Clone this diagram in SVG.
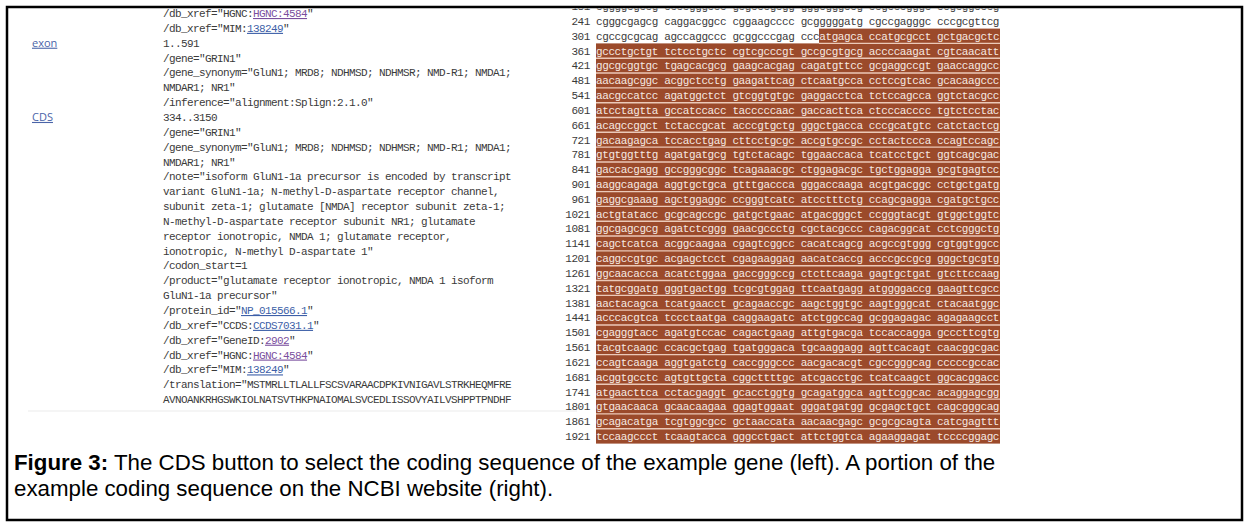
<svg xmlns="http://www.w3.org/2000/svg" width="1249" height="527" viewBox="0 0 1249 527">
<style>
.m{font-family:"Liberation Mono","DejaVu Sans Mono",monospace;font-size:11px;letter-spacing:-0.6px;fill:#3a3a3a}
.r{letter-spacing:-0.4px}
.h{fill:#f6e9e2}
.lk{fill:#3d5fa8;text-decoration:underline}
.lv{fill:#7a4f9e;text-decoration:underline}
.lab{font-family:"Open Sans","Liberation Sans",sans-serif;font-size:11px;fill:#4a64a8;text-decoration:underline}
.cap{font-family:"Liberation Sans",Arial,sans-serif;font-size:22.3px;fill:#000}
.sep{stroke:#ecc9b8;stroke-width:1.4}
</style>
<defs>
<clipPath id="topclip"><rect x="0" y="8.5" width="1249" height="30"/></clipPath>
</defs>
<rect x="0" y="0" width="1249" height="527" fill="#fff"/>
<g id="left-panel">
<line x1="28" y1="411" x2="577" y2="411" stroke="#f5f5f5" stroke-width="2"/>
<text class="lab" x="32" y="46.7">exon</text>
<text class="lab" x="32" y="120.95">CDS</text>
<g class="m">
<text x="163" y="17">/db_xref="HGNC:<tspan class="lv">HGNC:4584</tspan>"</text>
<text x="163" y="31.85">/db_xref="MIM:<tspan class="lk">138249</tspan>"</text>
<text x="163" y="46.7">1..591</text>
<text x="163" y="61.55">/gene="GRIN1"</text>
<text x="163" y="76.4">/gene_synonym="GluN1; MRD8; NDHMSD; NDHMSR; NMD-R1; NMDA1;</text>
<text x="163" y="91.25">NMDAR1; NR1"</text>
<text x="163" y="106.1">/inference="alignment:Splign:2.1.0"</text>
<text x="163" y="120.95">334..3150</text>
<text x="163" y="135.8">/gene="GRIN1"</text>
<text x="163" y="150.65">/gene_synonym="GluN1; MRD8; NDHMSD; NDHMSR; NMD-R1; NMDA1;</text>
<text x="163" y="165.5">NMDAR1; NR1"</text>
<text x="163" y="180.35">/note="isoform GluN1-1a precursor is encoded by transcript</text>
<text x="163" y="195.2">variant GluN1-1a; N-methyl-D-aspartate receptor channel,</text>
<text x="163" y="210.05">subunit zeta-1; glutamate [NMDA] receptor subunit zeta-1;</text>
<text x="163" y="224.9">N-methyl-D-aspartate receptor subunit NR1; glutamate</text>
<text x="163" y="239.75">receptor ionotropic, NMDA 1; glutamate receptor,</text>
<text x="163" y="254.6">ionotropic, N-methyl D-aspartate 1"</text>
<text x="163" y="269.45">/codon_start=1</text>
<text x="163" y="284.3">/product="glutamate receptor ionotropic, NMDA 1 isoform</text>
<text x="163" y="299.15">GluN1-1a precursor"</text>
<text x="163" y="314">/protein_id="<tspan class="lk">NP_015566.1</tspan>"</text>
<text x="163" y="328.85">/db_xref="CCDS:<tspan class="lk">CCDS7031.1</tspan>"</text>
<text x="163" y="343.7">/db_xref="GeneID:<tspan class="lv">2902</tspan>"</text>
<text x="163" y="358.55">/db_xref="HGNC:<tspan class="lv">HGNC:4584</tspan>"</text>
<text x="163" y="373.4">/db_xref="MIM:<tspan class="lk">138249</tspan>"</text>
<text x="163" y="388.25">/translation="MSTMRLLTLALLFSCSVARAACDPKIVNIGAVLSTRKHEQMFRE</text>
<text x="163" y="403.1">AVNOANKRHGSWKIOLNATSVTHKPNAIOMALSVCEDLISSOVYAILVSHPPTPNDHF</text>
</g>
</g>
<g id="right-panel">
<rect x="819" y="28.6" width="181" height="14.8" fill="#9b4a2b"/>
<rect x="596" y="43.4" width="404" height="400.2" fill="#9b4a2b"/>
<g class="sep">
<line x1="819" y1="43.4" x2="1000" y2="43.4"/>
<line x1="596" y1="58.22" x2="1000" y2="58.22"/><line x1="596" y1="73.04" x2="1000" y2="73.04"/><line x1="596" y1="87.86" x2="1000" y2="87.86"/><line x1="596" y1="102.68" x2="1000" y2="102.68"/><line x1="596" y1="117.5" x2="1000" y2="117.5"/><line x1="596" y1="132.32" x2="1000" y2="132.32"/><line x1="596" y1="147.14" x2="1000" y2="147.14"/><line x1="596" y1="161.96" x2="1000" y2="161.96"/><line x1="596" y1="176.78" x2="1000" y2="176.78"/><line x1="596" y1="191.6" x2="1000" y2="191.6"/><line x1="596" y1="206.42" x2="1000" y2="206.42"/><line x1="596" y1="221.24" x2="1000" y2="221.24"/><line x1="596" y1="236.06" x2="1000" y2="236.06"/><line x1="596" y1="250.88" x2="1000" y2="250.88"/><line x1="596" y1="265.7" x2="1000" y2="265.7"/><line x1="596" y1="280.52" x2="1000" y2="280.52"/><line x1="596" y1="295.34" x2="1000" y2="295.34"/><line x1="596" y1="310.16" x2="1000" y2="310.16"/><line x1="596" y1="324.98" x2="1000" y2="324.98"/><line x1="596" y1="339.8" x2="1000" y2="339.8"/><line x1="596" y1="354.62" x2="1000" y2="354.62"/><line x1="596" y1="369.44" x2="1000" y2="369.44"/><line x1="596" y1="384.26" x2="1000" y2="384.26"/><line x1="596" y1="399.08" x2="1000" y2="399.08"/><line x1="596" y1="413.9" x2="1000" y2="413.9"/><line x1="596" y1="428.72" x2="1000" y2="428.72"/>
</g>
<g class="m r" text-anchor="end">
<text x="590" y="10.18" clip-path="url(#topclip)">181</text>
<text x="590" y="25">241</text><text x="590" y="39.82">301</text><text x="590" y="54.64">361</text><text x="590" y="69.46">421</text><text x="590" y="84.28">481</text><text x="590" y="99.1">541</text><text x="590" y="113.92">601</text><text x="590" y="128.74">661</text><text x="590" y="143.56">721</text><text x="590" y="158.38">781</text><text x="590" y="173.2">841</text><text x="590" y="188.02">901</text><text x="590" y="202.84">961</text><text x="590" y="217.66">1021</text><text x="590" y="232.48">1081</text><text x="590" y="247.3">1141</text><text x="590" y="262.12">1201</text><text x="590" y="276.94">1261</text><text x="590" y="291.76">1321</text><text x="590" y="306.58">1381</text><text x="590" y="321.4">1441</text><text x="590" y="336.22">1501</text><text x="590" y="351.04">1561</text><text x="590" y="365.86">1621</text><text x="590" y="380.68">1681</text><text x="590" y="395.5">1741</text><text x="590" y="410.32">1801</text><text x="590" y="425.14">1861</text><text x="590" y="439.96">1921</text>
</g>
<g class="m r">
<text x="596" y="10.18" clip-path="url(#topclip)">cggggcgccg ccccgggccc gcgcccgcgg gggcgggccg ccgcccgggc ccgcggcccg</text>
<text x="596" y="25">cgggcgagcg caggacggcc cggaagcccc gcgggggatg cgccgagggc cccgcgttcg</text>
<text x="596" y="39.82">cgccgcgcag agccaggccc gcggcccgag ccc<tspan class="h">atgagca ccatgcgcct gctgacgctc</tspan></text>
</g>
<g class="m r h">
<text x="596" y="54.64">gccctgctgt tctcctgctc cgtcgcccgt gccgcgtgcg accccaagat cgtcaacatt</text>
<text x="596" y="69.46">ggcgcggtgc tgagcacgcg gaagcacgag cagatgttcc gcgaggccgt gaaccaggcc</text>
<text x="596" y="84.28">aacaagcggc acggctcctg gaagattcag ctcaatgcca cctccgtcac gcacaagccc</text>
<text x="596" y="99.1">aacgccatcc agatggctct gtcggtgtgc gaggacctca tctccagcca ggtctacgcc</text>
<text x="596" y="113.92">atcctagtta gccatccacc tacccccaac gaccacttca ctcccacccc tgtctcctac</text>
<text x="596" y="128.74">acagccggct tctaccgcat acccgtgctg gggctgacca cccgcatgtc catctactcg</text>
<text x="596" y="143.56">gacaagagca tccacctgag cttcctgcgc accgtgccgc cctactccca ccagtccagc</text>
<text x="596" y="158.38">gtgtggtttg agatgatgcg tgtctacagc tggaaccaca tcatcctgct ggtcagcgac</text>
<text x="596" y="173.2">gaccacgagg gccgggcggc tcagaaacgc ctggagacgc tgctggagga gcgtgagtcc</text>
<text x="596" y="188.02">aaggcagaga aggtgctgca gtttgaccca gggaccaaga acgtgacggc cctgctgatg</text>
<text x="596" y="202.84">gaggcgaaag agctggaggc ccgggtcatc atcctttctg ccagcgagga cgatgctgcc</text>
<text x="596" y="217.66">actgtatacc gcgcagccgc gatgctgaac atgacgggct ccgggtacgt gtggctggtc</text>
<text x="596" y="232.48">ggcgagcgcg agatctcggg gaacgccctg cgctacgccc cagacggcat cctcgggctg</text>
<text x="596" y="247.3">cagctcatca acggcaagaa cgagtcggcc cacatcagcg acgccgtggg cgtggtggcc</text>
<text x="596" y="262.12">caggccgtgc acgagctcct cgagaaggag aacatcaccg acccgccgcg gggctgcgtg</text>
<text x="596" y="276.94">ggcaacacca acatctggaa gaccgggccg ctcttcaaga gagtgctgat gtcttccaag</text>
<text x="596" y="291.76">tatgcggatg gggtgactgg tcgcgtggag ttcaatgagg atggggaccg gaagttcgcc</text>
<text x="596" y="306.58">aactacagca tcatgaacct gcagaaccgc aagctggtgc aagtgggcat ctacaatggc</text>
<text x="596" y="321.4">acccacgtca tccctaatga caggaagatc atctggccag gcggagagac agagaagcct</text>
<text x="596" y="336.22">cgagggtacc agatgtccac cagactgaag attgtgacga tccaccagga gcccttcgtg</text>
<text x="596" y="351.04">tacgtcaagc ccacgctgag tgatgggaca tgcaaggagg agttcacagt caacggcgac</text>
<text x="596" y="365.86">ccagtcaaga aggtgatctg caccgggccc aacgacacgt cgccgggcag cccccgccac</text>
<text x="596" y="380.68">acggtgcctc agtgttgcta cggcttttgc atcgacctgc tcatcaagct ggcacggacc</text>
<text x="596" y="395.5">atgaacttca cctacgaggt gcacctggtg gcagatggca agttcggcac acaggagcgg</text>
<text x="596" y="410.32">gtgaacaaca gcaacaagaa ggagtggaat gggatgatgg gcgagctgct cagcgggcag</text>
<text x="596" y="425.14">gcagacatga tcgtggcgcc gctaaccata aacaacgagc gcgcgcagta catcgagttt</text>
<text x="596" y="439.96">tccaagccct tcaagtacca gggcctgact attctggtca agaaggagat tccccggagc</text>
</g>
</g>
<g id="caption">
<text class="cap" x="14" y="470"><tspan font-weight="bold">Figure 3:</tspan> The CDS button to select the coding sequence of the example gene (left). A portion of the</text>
<text class="cap" x="14" y="496">example coding sequence on the NCBI website (right).</text>
</g>
<rect id="frame" x="7" y="7" width="1235" height="513" fill="none" stroke="#000" stroke-width="2.5"/>
</svg>
